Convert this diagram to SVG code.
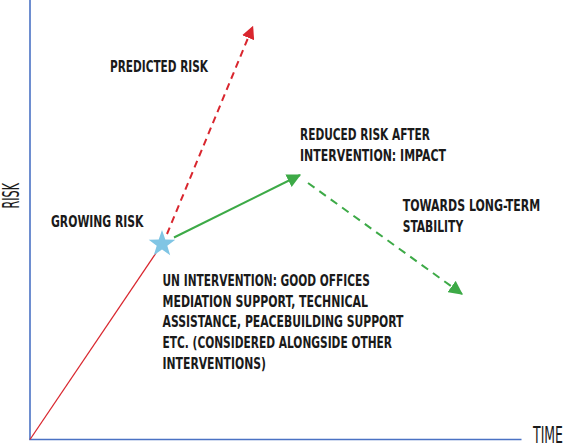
<svg xmlns="http://www.w3.org/2000/svg" width="574" height="444" viewBox="0 0 574 444">
  <style>
    .lbl { font-family: "DejaVu Sans Condensed", "DejaVu Sans", sans-serif; font-stretch: condensed; font-weight: bold; font-size: 15.5px; fill: #1a1a1a; }
    .ax { font-family: "DejaVu Sans Condensed", "DejaVu Sans", sans-serif; font-stretch: condensed; font-size: 22.5px; fill: #1a1a1a; }
    .axis { stroke: #4a72c4; stroke-width: 1.6; fill: none; }
    .red { stroke: #d9262e; fill: none; }
    .green { stroke: #3daa47; fill: none; stroke-width: 2; }
  </style>
  <defs>
    <marker id="arrRed" viewBox="0 0 12 12" refX="11" refY="6" markerWidth="13" markerHeight="13" markerUnits="userSpaceOnUse" orient="auto">
      <path d="M0,0 L12,6 L0,12 Z" fill="#d9262e"/>
    </marker>
    <marker id="arrGreen" viewBox="0 0 12 12" refX="11" refY="6" markerWidth="14" markerHeight="14" markerUnits="userSpaceOnUse" orient="auto">
      <path d="M0,0 L12,6 L0,12 Z" fill="#3daa47"/>
    </marker>
  </defs>

  <!-- axes -->
  <g id="axes">
    <line class="axis" x1="30" y1="0" x2="30" y2="439.5"/>
    <line class="axis" x1="29.2" y1="439.5" x2="521.5" y2="439.5"/>
    <text class="ax" x="533" y="442.5" textLength="30" lengthAdjust="spacingAndGlyphs">TIME</text>
    <text class="ax" transform="translate(18.5,208.5) rotate(-90)" x="0" y="0" textLength="25.5" lengthAdjust="spacingAndGlyphs">RISK</text>
  </g>

  <!-- connectors -->
  <g id="connectors">
    <line class="red" stroke-width="1.3" x1="30" y1="439.5" x2="156" y2="253"/>
    <line class="red" stroke-width="2" stroke-dasharray="7,5" x1="167" y1="234" x2="252.7" y2="26.7" marker-end="url(#arrRed)"/>
    <line class="green" x1="174" y1="237.5" x2="300" y2="175" marker-end="url(#arrGreen)"/>
    <line class="green" stroke-dasharray="8,6" x1="308" y1="183" x2="462" y2="294" marker-end="url(#arrGreen)"/>
  </g>

  <!-- intervention point -->
  <g id="star">
    <polygon fill="#80c5e4" transform="translate(162,244)" points="0,-14 3.3,-4.5 13.3,-4.3 5.3,1.7 8.2,11.3 0,5.6 -8.2,11.3 -5.3,1.7 -13.3,-4.3 -3.3,-4.5"/>
  </g>

  <g id="predicted-risk">
    <text class="lbl" x="110" y="72" textLength="98" lengthAdjust="spacingAndGlyphs">PREDICTED RISK</text>
  </g>

  <g id="reduced-risk">
    <text class="lbl" x="300" y="140" textLength="130" lengthAdjust="spacingAndGlyphs">REDUCED RISK AFTER</text>
    <text class="lbl" x="300" y="161" textLength="146" lengthAdjust="spacingAndGlyphs">INTERVENTION: IMPACT</text>
  </g>

  <g id="long-term">
    <text class="lbl" x="402.7" y="211" textLength="137.5" lengthAdjust="spacingAndGlyphs">TOWARDS LONG-TERM</text>
    <text class="lbl" x="402.7" y="232" textLength="60.5" lengthAdjust="spacingAndGlyphs">STABILITY</text>
  </g>

  <g id="growing-risk">
    <text class="lbl" x="51" y="227" textLength="92.5" lengthAdjust="spacingAndGlyphs">GROWING RISK</text>
  </g>

  <g id="un-intervention">
    <text class="lbl" x="162.5" y="286" textLength="207.5" lengthAdjust="spacingAndGlyphs">UN INTERVENTION: GOOD OFFICES</text>
    <text class="lbl" x="162.5" y="306.7" textLength="205.5" lengthAdjust="spacingAndGlyphs">MEDIATION SUPPORT, TECHNICAL</text>
    <text class="lbl" x="162.5" y="327.4" textLength="241" lengthAdjust="spacingAndGlyphs">ASSISTANCE, PEACEBUILDING SUPPORT</text>
    <text class="lbl" x="162.5" y="348.2" textLength="229.5" lengthAdjust="spacingAndGlyphs">ETC. (CONSIDERED ALONGSIDE OTHER</text>
    <text class="lbl" x="162.5" y="369" textLength="103.5" lengthAdjust="spacingAndGlyphs">INTERVENTIONS)</text>
  </g>
</svg>
